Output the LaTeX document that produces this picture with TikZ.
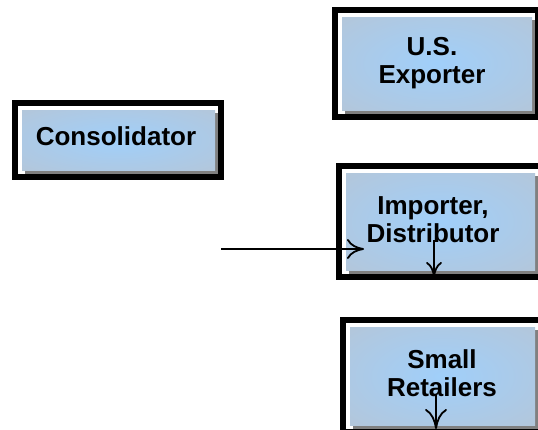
\documentclass[tikz,border=0pt]{standalone}
\usepackage{fontspec}
\setmainfont{Liberation Sans}
\usetikzlibrary{arrows.meta,calc}
\definecolor{fillin}{RGB}{160,207,250}
\definecolor{fillmid}{RGB}{176,200,224}
\definecolor{fillout}{RGB}{188,194,200}
\definecolor{shadowgray}{RGB}{128,128,128}
\pgfdeclareradialshading{boxshade}{\pgfpointorigin}{color(0bp)=(fillin); color(30bp)=(fillmid); color(52bp)=(fillout); color(72bp)=(fillout)}
\tikzset{
 lbl/.style={anchor=base, align=center, inner sep=0pt, font=\fontsize{26}{28}\selectfont\bfseries},
 frame/.style={draw=black, line width=6pt},
 conn/.style={line width=1.8pt},
}
\newcommand\tbox[4]{%
 \node[minimum width=#3, minimum height=#4, inner sep=0pt, outer sep=0pt] (#1) at (#2) {};
 \fill[shadowgray] ($(#1.north west)+(3,3)$) rectangle ($(#1.south east)+(3,4)$);
 \shade[shading=boxshade] (#1.north west) rectangle (#1.south east);
 \draw[frame] ($(#1.north west)+(-7,-7)$) rectangle ($(#1.south east)+(5.5,6.5)$);
}
\begin{document}
\begin{tikzpicture}[x=1pt,y=-1pt]
\useasboundingbox (0,0) rectangle (538,429);
\fill[white] (0,0) rectangle (538,429);
\tbox{exp}{437,63.5}{190pt}{93pt}
\tbox{con}{118.5,140}{193pt}{60pt}
\tbox{imp}{440.5,221.5}{189pt}{97pt}
\tbox{ret}{442.5,376}{185pt}{98pt}
\node[lbl] (expl) at (432,83) {U.S.\\Exporter};
\node[lbl] (conl) at (116,145) {Consolidator};
\node[lbl] (impl) at (433,242) {Importer,\\Distributor};
\node[lbl] (retl) at (442,396) {Small\\Retailers};
\coordinate (hs) at (221,249);
\coordinate (ht) at (364,249);
\coordinate (vis) at (434,240);
\coordinate (vit) at (434,277);
\coordinate (vrs) at (436,395);
\coordinate (vrt) at (436,429);
\draw[conn, -{Computer Modern Rightarrow[length=17pt,width=20pt]}] (hs) -- (ht);
\draw[conn, -{Computer Modern Rightarrow[length=15pt,width=16pt]}] (vis) -- (vit);
\draw[conn, -{Computer Modern Rightarrow[length=20pt,width=22pt]}] (vrs) -- (vrt);
\end{tikzpicture}
\end{document}
